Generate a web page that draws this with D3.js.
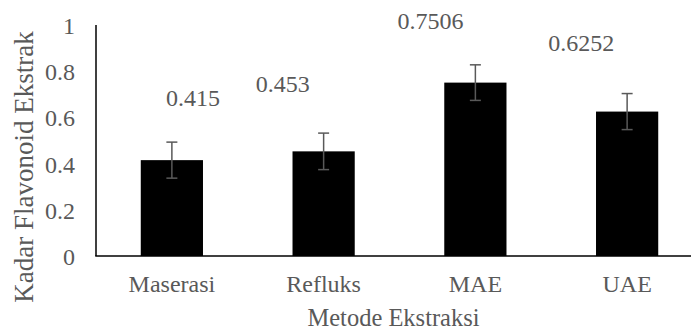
<!DOCTYPE html>
<html>
<head>
<meta charset="utf-8">
<script src="https://cdn.jsdelivr.net/npm/d3@7"></script>
</head>
<body style="margin:0;padding:0;background:#fff">
<svg id="chart" width="691" height="330"></svg>
<script>
// ---- data ----
const categories = ["Maserasi", "Refluks", "MAE", "UAE"];
const values = [0.415, 0.453, 0.7506, 0.6252];
const errors = [0.078, 0.079, 0.077, 0.078];
const valueLabels = ["0.415", "0.453", "0.7506", "0.6252"];
const yTicks = [0, 0.2, 0.4, 0.6, 0.8, 1];
const yTickLabels = ["0", "0.2", "0.4", "0.6", "0.8", "1"];
const xTitle = "Metode Ekstraksi";
const yTitle = "Kadar Flavonoid Ekstrak";

// ---- layout (label offsets from bar centre / value point, px) ----
const labelDx = [21, -41, -45, -46];
const labelDy = [-54, -59, -54, -61];

const FONT = "Liberation Serif";
const TXT = "#595959";
const plot = { left: 96, top: 25, bottom: 256, right: 691 };
const svg = d3.select("#chart").attr("font-family", FONT);

const x = d3.scaleBand()
  .domain(categories)
  .range([plot.left, plot.left + 4 * 151.75])
  .paddingInner(0.59)
  .paddingOuter(0.295);

const y = d3.scaleLinear().domain([0, 1]).range([plot.bottom, plot.top]);

// y axis
const yAxis = svg.append("g")
  .attr("transform", `translate(${plot.left},0)`)
  .call(d3.axisLeft(y).tickValues(yTicks).tickFormat((d, i) => yTickLabels[i]).tickSize(0).tickPadding(21));
yAxis.attr("font-family", FONT).attr("font-size", 24);
yAxis.select(".domain").remove();
yAxis.selectAll("text").attr("fill", TXT).attr("dy", "0.35em");

// bars
svg.append("g").selectAll("rect")
  .data(categories)
  .join("rect")
  .attr("x", d => x(d))
  .attr("width", x.bandwidth())
  .attr("y", (d, i) => y(values[i]))
  .attr("height", (d, i) => y(0) - y(values[i]))
  .attr("fill", "#000");

// error bars
const eb = svg.append("g").attr("stroke", "#595959").attr("stroke-width", 1.5);
categories.forEach((c, i) => {
  const cx = x(c) + x.bandwidth() / 2;
  const y1 = y(values[i] + errors[i]), y2 = y(values[i] - errors[i]);
  eb.append("line").attr("x1", cx).attr("x2", cx).attr("y1", y1).attr("y2", y2);
  eb.append("line").attr("x1", cx - 5.5).attr("x2", cx + 5.5).attr("y1", y1).attr("y2", y1);
  eb.append("line").attr("x1", cx - 5.5).attr("x2", cx + 5.5).attr("y1", y2).attr("y2", y2);
});

// axis lines
svg.append("line")
  .attr("x1", plot.left).attr("x2", plot.left)
  .attr("y1", plot.top).attr("y2", plot.bottom)
  .attr("stroke", "#000").attr("stroke-width", 1.5);

const xAxis = svg.append("g")
  .attr("transform", `translate(0,${plot.bottom})`)
  .call(d3.axisBottom(x).tickSize(0).tickPadding(19));
xAxis.attr("font-family", FONT).attr("font-size", 24);
xAxis.select(".domain").remove();
xAxis.selectAll("text").attr("fill", TXT);

svg.append("line")
  .attr("x1", plot.left - 0.75).attr("x2", plot.right)
  .attr("y1", plot.bottom).attr("y2", plot.bottom)
  .attr("stroke", "#000").attr("stroke-width", 1.5);

// value labels
svg.append("g").selectAll("text")
  .data(categories)
  .join("text")
  .attr("x", (d, i) => x(d) + x.bandwidth() / 2 + labelDx[i])
  .attr("y", (d, i) => y(values[i]) + labelDy[i])
  .attr("text-anchor", "middle")
  .attr("font-family", FONT)
  .attr("font-size", 24)
  .attr("fill", TXT)
  .text((d, i) => valueLabels[i]);

// axis titles
svg.append("text")
  .attr("x", (plot.left + plot.right) / 2)
  .attr("y", 326)
  .attr("text-anchor", "middle")
  .attr("font-family", FONT)
  .attr("font-size", 24.5)
  .attr("fill", TXT)
  .text(xTitle);

svg.append("text")
  .attr("transform", `translate(33,167) rotate(-90)`)
  .attr("text-anchor", "middle")
  .attr("font-family", FONT)
  .attr("font-size", 27)
  .attr("fill", TXT)
  .text(yTitle);
</script>
</body>
</html>
